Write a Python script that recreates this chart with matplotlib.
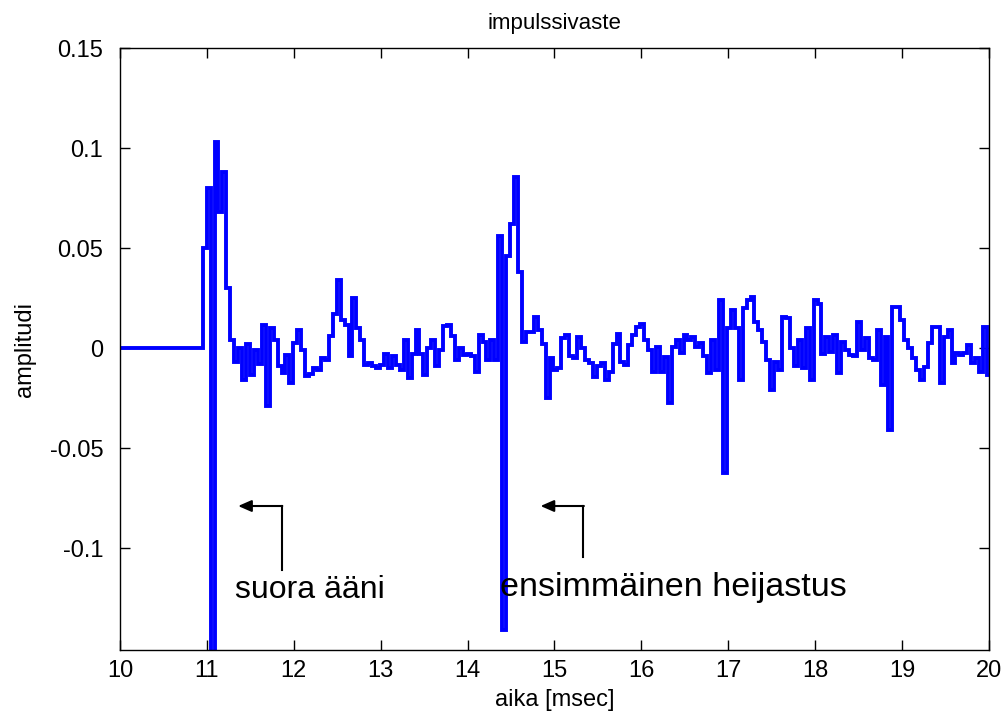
import numpy as np
import matplotlib
matplotlib.use("Agg")
import matplotlib.pyplot as plt

plt.rcParams['font.family'] = ['Liberation Sans', 'DejaVu Sans']

# impulse response, sampled at 22.05 kHz starting at 10 ms
fs_khz = 22.05
t_start = 10.0
amplitude = [
    0, 0, 0, 0, 0, 0, 0, 0, 0, 0,
    0, 0, 0, 0, 0, 0, 0, 0, 0, 0,
    0, 0.05, 0.08, -0.17, 0.103, 0.068, 0.088, 0.03, 0.004, -0.007,
    0.0, -0.016, 0.002, -0.0135, -0.001, -0.008, 0.0115, -0.029, 0.01, 0.004,
    -0.009, -0.0127, -0.0035, -0.0177, 0.0023, 0.009, -0.001, -0.014, -0.013, -0.010,
    -0.011, -0.005, -0.006, 0.006, 0.017, 0.034, 0.014, 0.0115, -0.004, 0.025,
    0.010, 0.004, -0.0085, -0.0077, -0.009, -0.010, -0.0085, -0.003, -0.010, -0.004,
    -0.0085, -0.011, 0.004, -0.015, -0.003, 0.009, -0.003, -0.0135, 0.0, 0.004,
    -0.009, -0.001, 0.011, 0.0115, 0.006, -0.006, 0.0, -0.0035, -0.003, -0.004,
    -0.012, 0.0065, 0.003, -0.006, 0.004, -0.006, 0.056, -0.141, 0.046, 0.062,
    0.0857, 0.038, 0.003, 0.008, 0.008, 0.0157, 0.009, 0.002, -0.025, -0.005,
    -0.011, -0.010, 0.005, 0.0065, -0.004, -0.005, 0.0057, 0.0, -0.006, -0.0077,
    -0.0143, -0.009, -0.0077, -0.016, -0.012, 0.002, 0.007, -0.0068, -0.0085, 0.0015,
    0.0065, 0.0107, 0.012, 0.004, -0.001, -0.012, 0.0007, -0.012, -0.0043, -0.0277,
    0.0007, 0.004, -0.0027, 0.0065, 0.004, 0.0057, 0.0007, 0.0023, -0.004, -0.0127,
    0.004, -0.011, 0.024, -0.0627, 0.01, 0.019, 0.0098, -0.016, 0.02, 0.024,
    0.0257, 0.013, 0.009, 0.003, -0.006, -0.021, -0.007, -0.011, 0.0157, 0.015,
    0.0, -0.009, 0.004, -0.010, 0.01, -0.016, 0.024, 0.022, -0.003, 0.0057,
    -0.002, 0.0065, -0.0127, 0.003, -0.001, -0.0035, -0.004, 0.013, -0.001, 0.005,
    -0.005, -0.006, 0.009, -0.0185, 0.0057, -0.041, 0.0207, 0.0207, 0.014, 0.004,
    0.0, -0.005, -0.011, -0.016, -0.0093, 0.0023, 0.0107, 0.0107, -0.0177, 0.0057,
    0.009, -0.0077, -0.0027, -0.0035, -0.0027, 0.0015, -0.0077, -0.005, -0.012, 0.0107,
    -0.0135, -0.0135,
]

x_ticks = [10, 11, 12, 13, 14, 15, 16, 17, 18, 19, 20]
y_ticks = [-0.1, -0.05, 0, 0.05, 0.1, 0.15]
y_tick_labels = ['-0.1', '-0.05', '0', '0.05', '0.1', '0.15']

# annotations: (label, size, text x, text y, arrow tip x, corner x, tail y, arrow y)
notes = [
    ("suora ääni", 23, 11.325, -0.125, 11.36, 11.863, -0.111, -0.079),
    ("ensimmäinen heijastus", 24.5, 14.378, -0.124, 14.84, 15.334, -0.1045, -0.079),
]

t = t_start + np.arange(len(amplitude)) / fs_khz

fig = plt.figure(figsize=(10.03, 7.24), dpi=100)
ax = fig.add_axes([0.1196, 0.1022, 0.8664, 0.8315])

ax.plot(t, amplitude, color=(0, 0, 1), lw=2.8, drawstyle='steps-post',
        solid_joinstyle='miter')

ax.set_xlim(10, 20)
ax.set_ylim(-0.151, 0.15)
ax.set_xticks(x_ticks)
ax.set_xticklabels([str(v) for v in x_ticks])
ax.set_yticks(y_ticks)
ax.set_yticklabels(y_tick_labels)
ax.tick_params(direction='in', length=7, width=1, top=True, right=True,
               labelsize=17, colors='black')
ax.tick_params(axis='x', pad=7)
ax.tick_params(axis='y', pad=12)
for s in ax.spines.values():
    s.set_linewidth(1.0)

ax.set_title("impulssivaste", fontsize=16, pad=14)
ax.set_xlabel("aika [msec]", fontsize=17, labelpad=5)
ax.set_ylabel("amplitudi", fontsize=17, labelpad=10)

for label, size, tx, ty, tip_x, corner_x, tail_y, arr_y in notes:
    ax.plot([corner_x, corner_x], [tail_y, arr_y], color='black', lw=1.5)
    ax.annotate("", xy=(tip_x, arr_y), xytext=(corner_x + 0.005, arr_y),
                arrowprops=dict(arrowstyle='-|>,head_length=0.8,head_width=0.35',
                                color='black', lw=1.5, shrinkA=0, shrinkB=0))
    ax.text(tx, ty, label, fontsize=size, ha='left', va='baseline')

fig.savefig("out.png", dpi=100)
